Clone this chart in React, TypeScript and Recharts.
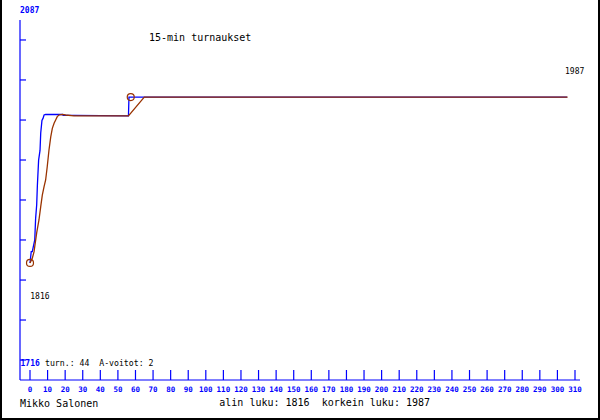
import React from 'react';
import { LineChart, Line, XAxis, YAxis, ReferenceDot, Customized } from 'recharts';

const BLUE = '#0000ff';
const BROWN = '#993300';

// blue series: [x, rating]
const blueX = [0, 0.7, 1.3, 2.7, 3.2, 3.8, 4.2, 4.9, 5.7, 6.1, 6.8, 7.4, 8.0, 8.9, 18.4, 18.9, 25, 56, 56.3, 305.5];
const blueY = [1816, 1827.6, 1827.6, 1839.7, 1862, 1875.7, 1896, 1922, 1932, 1950, 1963, 1965, 1968.5, 1969, 1969, 1968, 1968, 1967.5, 1987, 1987];

// brown series
const brownX = [0, 1.3, 2.3, 3.8, 5.1, 6.1, 7.0, 8.0, 8.9, 9.8, 10.8, 11.8, 12.7, 13.7, 14.6, 15.5, 16.5, 18.4, 20.3, 25, 56, 65, 305.8];
const brownY = [1816, 1820.8, 1827.6, 1847, 1860.3, 1874, 1886, 1894.6, 1901.5, 1915.2, 1932.4, 1946, 1954.7, 1959.9, 1963.3, 1966.8, 1968.5, 1969.2, 1968.5, 1967.5, 1967.5, 1987, 1987];

const xTicks = [0, 10, 20, 30, 40, 50, 60, 70, 80, 90, 100, 110, 120, 130, 140, 150, 160, 170, 180, 190, 200, 210, 220, 230, 240, 250, 260, 270, 280, 290, 300, 310];
const yTicks = [1716, 1757.2, 1798.4, 1839.7, 1880.9, 1922.1, 1963.3, 2004.6, 2045.8];

const minRating = 1816;
const maxRating = 1987;
const maxX = 57.3;
const yTopLabel = '2087';
const yBottomLabel = '1716';
const title = '15-min turnaukset';
const playerName = 'Mikko Salonen';
const infoText = 'turn.: 44  A-voitot: 2';
const footerText = 'alin luku: 1816  korkein luku: 1987';

const blueData = blueX.map((x, i) => ({ x, y: blueY[i] }));
const brownData = brownX.map((x, i) => ({ x, y: brownY[i] }));

const MONO = '"DejaVu Sans Mono", monospace';

const XTick = (props: any) => {
  const { x, payload } = props;
  return (
    <text x={x} y={392} textAnchor="middle" fill={BLUE} fontFamily={MONO} fontWeight="bold" fontSize={7.5}>
      {payload.value}
    </text>
  );
};

const EmptyTick = () => <g />;

const Texts = () => (
  <g>
    <text x={20} y={12.5} fill={BLUE} fontFamily={MONO} fontWeight="bold" fontSize={8}>{yTopLabel}</text>
    <text x={20.5} y={366} fill={BLUE} fontFamily={MONO} fontWeight="bold" fontSize={8}>{yBottomLabel}</text>
    <text x={45} y={366} fill="#000" fontFamily={MONO} fontSize={8.2} style={{ whiteSpace: 'pre' }}>{infoText}</text>
    <text x={30.3} y={299} fill="#000" fontFamily={MONO} fontSize={8}>{String(minRating)}</text>
    <text x={565} y={74} fill="#000" fontFamily={MONO} fontSize={8}>{String(maxRating)}</text>
    <text x={149} y={41} fill="#000" fontFamily={MONO} fontSize={10}>{title}</text>
    <text x={20} y={406.5} fill="#000" fontFamily={MONO} fontSize={10}>{playerName}</text>
    <text x={219.3} y={406} fill="#000" fontFamily={MONO} fontSize={10} style={{ whiteSpace: 'pre' }}>{footerText}</text>
    <line x1={1} y1={0} x2={1} y2={420} stroke="#000" strokeWidth={2} />
    <line x1={599} y1={0} x2={599} y2={420} stroke="#000" strokeWidth={2} />
    <line x1={0} y1={419} x2={600} y2={419} stroke="#000" strokeWidth={2} />
  </g>
);

export default function App() {
  return (
    <div style={{ position: 'absolute', left: 0, top: 0, width: 600, height: 420, background: '#fff' }}>
      <LineChart width={600} height={420} margin={{ top: 20, left: 20, right: 20, bottom: 10 }}>
        <XAxis
          dataKey="x"
          type="number"
          domain={[-5.688, 312.844]}
          ticks={xTicks}
          interval={0}
          allowDataOverflow
          height={30}
          stroke={BLUE}
          axisLine={{ stroke: BLUE, strokeWidth: 1.2 }}
          tickLine={{ stroke: BLUE, strokeWidth: 1.2 }}
          tickSize={-10}
          tickMargin={0}
          tick={<XTick />}
        />
        <YAxis
          dataKey="y"
          type="number"
          domain={[1695.39, 2066.39]}
          ticks={yTicks}
          interval={0}
          allowDataOverflow
          mirror
          tick={<EmptyTick />}
          tickSize={6}
          stroke={BLUE}
          axisLine={{ stroke: BLUE, strokeWidth: 1.2 }}
          tickLine={{ stroke: BLUE, strokeWidth: 1.2 }}
        />
        <Line data={blueData} dataKey="y" type="linear" stroke={BLUE} strokeWidth={1.3} dot={false} isAnimationActive={false} />
        <Line data={brownData} dataKey="y" type="linear" stroke={BROWN} strokeWidth={1.3} dot={false} isAnimationActive={false} />
        <ReferenceDot x={0} y={minRating} r={3.5} fill="none" stroke={BROWN} strokeWidth={1.2} />
        <ReferenceDot x={maxX} y={maxRating} r={3.5} fill="none" stroke={BROWN} strokeWidth={1.2} />
        <Customized component={Texts} />
      </LineChart>
    </div>
  );
}
